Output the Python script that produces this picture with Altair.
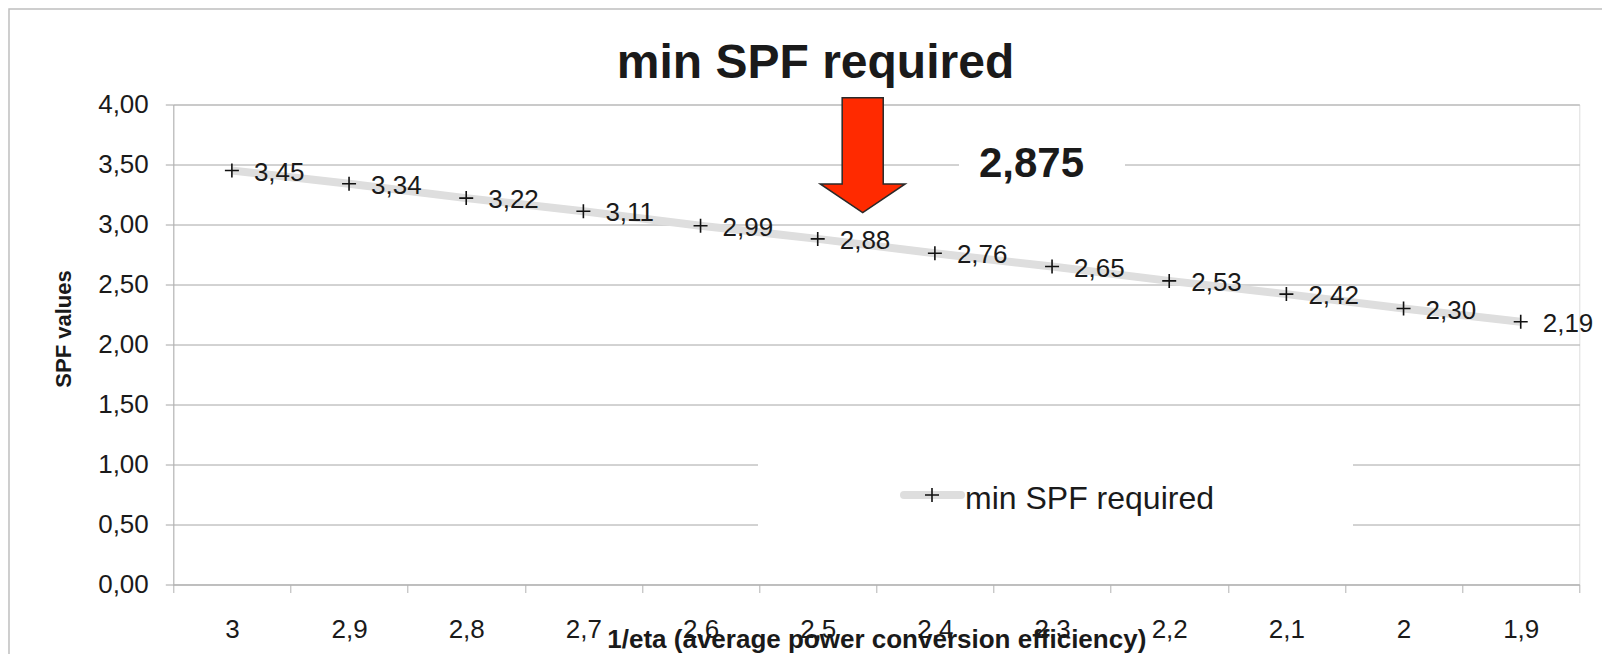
import altair as alt
import pandas as pd

# ---- data -------------------------------------------------------------
x_labels = ["3", "2,9", "2,8", "2,7", "2,6", "2,5", "2,4", "2,3", "2,2", "2,1", "2", "1,9"]
spf_values = [3.45, 3.34, 3.22, 3.11, 2.99, 2.88, 2.76, 2.65, 2.53, 2.42, 2.30, 2.19]
y_ticks = [0, 0.5, 1, 1.5, 2, 2.5, 3, 3.5, 4]
series_name = "min SPF required"
chart_title = "min SPF required"
highlight_text = "2,875"
x_title = "1/eta (average power conversion efficiency)"
y_title = "SPF values"

df = pd.DataFrame({"eta": x_labels, "spf": spf_values})
one = pd.DataFrame({"k": [0]})

FONT = "Liberation Sans"
INK = "#1a1a1a"
W, H = 1406, 480
PL, PT = 165.3, 96.5
PR, PB = 1594 - PL - W, 646 - PT - H

x_axis = alt.Axis(
    title=x_title, tickBand="extent", labelAngle=0, tickSize=8, labelPadding=24,
    labelFontSize=26, labelFont=FONT, labelColor=INK,
    domainColor="#b3b3b3", tickColor="#b3b3b3", grid=False,
    titleFont=FONT, titleFontSize=26, titleFontWeight="bold", titleColor=INK,
    titleY=42, titleBaseline="top",
)
y_axis = alt.Axis(
    title=y_title, values=y_ticks,
    labelExpr="replace(format(datum.value, '.2f'), '.', ',')",
    tickSize=8, labelPadding=17, labelFontSize=26, labelFont=FONT, labelColor=INK,
    domainColor="#b3b3b3", tickColor="#a6a6a6", gridColor="#a6a6a6", gridWidth=1,
    titleFont=FONT, titleFontSize=22, titleFontWeight="bold", titleColor=INK,
    titleX=-110, titleY=224, titleBaseline="middle", titleAlign="center", titleAngle=270,
)

X = alt.X("eta:N", sort=x_labels,
          scale=alt.Scale(type="band", paddingInner=0, paddingOuter=0), axis=x_axis)
Xs = alt.X("eta:N", sort=x_labels)
Y = alt.Y("spf:Q", scale=alt.Scale(domain=[0, 4], nice=False), axis=y_axis)
Ys = alt.Y("spf:Q")

base = alt.Chart(df)

border = alt.Chart(one).mark_rect(fillOpacity=0, stroke="#bfbfbf", strokeWidth=1.5).encode(
    x=alt.value(-PL + 1), x2=alt.value(W + 300), y=alt.value(-PT + 1), y2=alt.value(H + 300)
)

title = alt.Chart(pd.DataFrame({"t": [chart_title]})).mark_text(
    align="center", baseline="alphabetic", fontSize=48, fontWeight="bold", font=FONT, color=INK
).encode(x=alt.value(642.2), y=alt.value(-26.2), text="t:N")

line = base.mark_line(color="#dedede", strokeWidth=8).encode(x=X, y=Y)

PLUS = "M-1,0L1,0M0,-1L0,1"
points = base.mark_point(shape=PLUS, size=196, filled=False, stroke="#111111",
                         strokeWidth=1.6, opacity=1).encode(x=Xs, y=Ys)

labels = base.transform_calculate(
    lab="replace(format(datum.spf, '.2f'), '.', ',')"
).mark_text(align="left", baseline="middle", dx=22, dy=2, fontSize=26, font=FONT,
            color=INK).encode(x=Xs, y=Ys, text="lab:N")

# highlight value box
hl_box = alt.Chart(one).mark_rect(fill="white").encode(
    x=alt.value(785.7), x2=alt.value(951.7), y=alt.value(35.5), y2=alt.value(85.5)
)
hl_text = alt.Chart(pd.DataFrame({"t": [highlight_text]})).mark_text(
    align="center", baseline="alphabetic", fontSize=42, fontWeight="bold", font=FONT, color=INK
).encode(x=alt.value(858.2), y=alt.value(72.8), text="t:N")

ARROW = "M-0.357,-1L0.357,-1L0.357,0.5L0.739,0.5L0,1L-0.739,0.5L-0.357,0.5Z"
arrow = alt.Chart(one).mark_point(shape=ARROW, size=13225, filled=True, fill="#ff2a00",
                                  stroke="#2a2a2a", strokeWidth=1.5, opacity=1).encode(
    x=alt.value(689.4), y=alt.value(50.7)
)

# manual legend
leg_box = alt.Chart(one).mark_rect(fill="white").encode(
    x=alt.value(584.7), x2=alt.value(1179.7), y=alt.value(325.5), y2=alt.value(455.5)
)
leg_line = alt.Chart(one).mark_rule(color="#dedede", strokeWidth=8, strokeCap="round").encode(
    x=alt.value(730.7), x2=alt.value(787.7), y=alt.value(390.5)
)
leg_plus = alt.Chart(one).mark_point(shape=PLUS, size=196, filled=False, stroke="#111111",
                                     strokeWidth=1.6, opacity=1).encode(
    x=alt.value(758.7), y=alt.value(390.5)
)
leg_text = alt.Chart(pd.DataFrame({"t": [series_name]})).mark_text(
    align="left", baseline="alphabetic", fontSize=32, font=FONT, color=INK
).encode(x=alt.value(791.7), y=alt.value(404.5), text="t:N")

chart = alt.layer(
    line, points, labels, hl_box, hl_text, arrow, leg_box, leg_line, leg_plus, leg_text,
    title, border
).properties(
    width=W, height=H,
    autosize=alt.AutoSizeParams(type="none"),
    padding={"left": PL, "top": PT, "right": PR, "bottom": PB},
).configure_view(stroke=None).configure(background="white")

chart.save("out.html", embed_options={"renderer": "svg", "actions": False})
